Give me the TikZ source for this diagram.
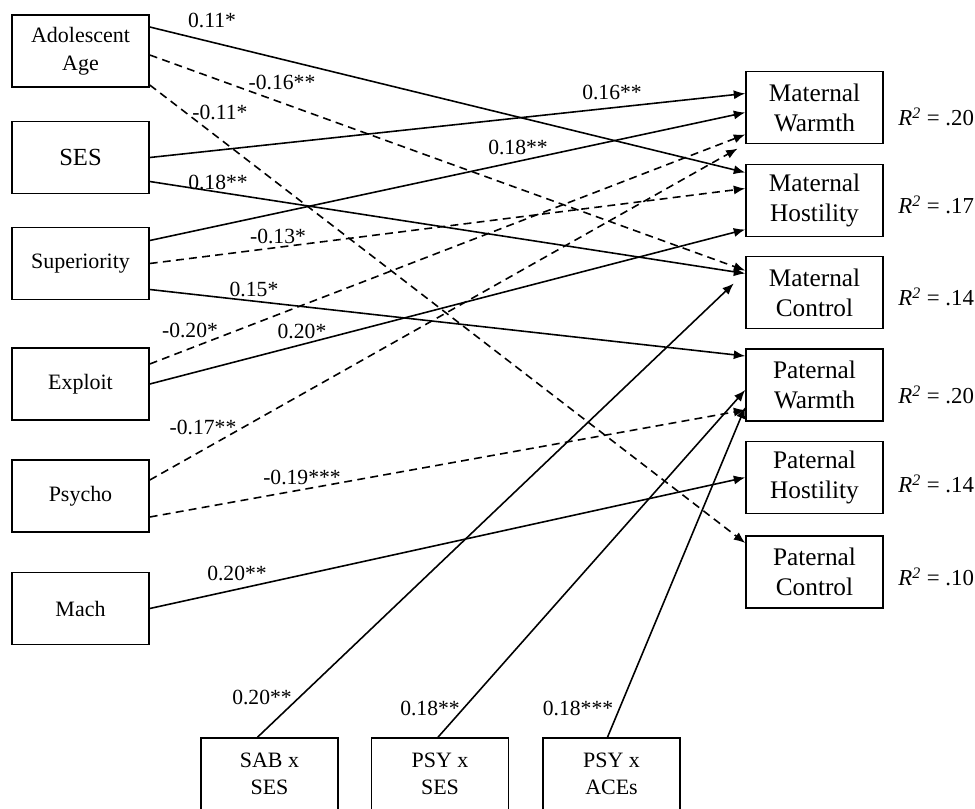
\documentclass[tikz,border=0pt]{standalone}
\usepackage{fontspec}
\setmainfont{Liberation Serif}
\usetikzlibrary{positioning,calc,arrows.meta}

\begin{document}
\begin{tikzpicture}[
    x=0.02cm, y=-0.02cm,
    every node/.style={font=\fontsize{12.5}{16}\selectfont},
    pred/.style={rectangle, draw=black, line width=0.9pt, minimum width=2.74cm, minimum height=1.44cm, align=center, inner sep=2pt},
    outc/.style={pred, font=\fontsize{14.4}{17}\selectfont},
    coef/.style={inner sep=0pt, font=\fontsize{12.3}{14}\selectfont},
    rsq/.style={anchor=west, inner sep=0pt, font=\fontsize{13}{15}\selectfont},
    poseff/.style={-{Latex[length=6.5pt,width=5.2pt]}, line width=0.9pt},
    negeff/.style={poseff, dash pattern=on 4.5pt off 3pt}
]
    \useasboundingbox (0,0) rectangle (975,809);

    % predictors
    \node[pred] (age) at (80.5,51) {Adolescent\\Age};
    \node[pred, font=\fontsize{14}{16}\selectfont] (ses) at (80.5,157.5) {SES};
    \node[pred] (sup) at (80.5,263.5) {Superiority};
    \node[pred] (expl) at (80.5,384) {Exploit};
    \node[pred] (psych) at (80.5,496) {Psycho};
    \node[pred] (mach) at (80.5,608.5) {Mach};

    % outcomes
    \node[outc] (mwarm) at (814.5,107.5) {Maternal\\Warmth};
    \node[outc] (mhost) at (814.5,200.5) {Maternal\\Hostility};
    \node[outc] (mctrl) at (814.5,292.5) {Maternal\\Control};
    \node[outc] (pwarm) at (814.5,385) {Paternal\\Warmth};
    \node[outc] (phost) at (814.5,477.5) {Paternal\\Hostility};
    \node[outc] (pctrl) at (814.5,572) {Paternal\\Control};

    \node[rsq] (r1) at (898,117) {\textit{R}\textsuperscript{\textit{2}} = .20};
    \node[rsq] (r2) at (898,205) {\textit{R}\textsuperscript{\textit{2}} = .17};
    \node[rsq] (r3) at (898,297) {\textit{R}\textsuperscript{\textit{2}} = .14};
    \node[rsq] (r4) at (898,395) {\textit{R}\textsuperscript{\textit{2}} = .20};
    \node[rsq] (r5) at (898,484) {\textit{R}\textsuperscript{\textit{2}} = .14};
    \node[rsq] (r6) at (898,577) {\textit{R}\textsuperscript{\textit{2}} = .10};

    % interactions
    \node[pred, font=\fontsize{12.5}{15.5}\selectfont] (sabses) at (269.5,774) {SAB x\\SES};
    \node[pred, font=\fontsize{12.5}{15.5}\selectfont] (psyses) at (440,774) {PSY x\\SES};
    \node[pred, font=\fontsize{12.5}{15.5}\selectfont] (psyaces) at (611.5,774) {PSY x\\ACEs};

    % paths
    \draw[poseff] ($(age.east)+(0,-24)$) -- ($(mhost.west)+(0,-28)$);
    \draw[negeff] ($(age.east)+(0,4)$) -- ($(mctrl.west)+(0,-22)$);
    \draw[negeff] ($(age.east)+(0,34)$) -- ($(pctrl.west)+(0,-29)$);
    \draw[poseff] (ses.east) -- ($(mwarm.west)+(0,-14)$);
    \draw[poseff] ($(ses.east)+(0,24)$) -- ($(mctrl.west)+(0,-19)$);
    \draw[poseff] ($(sup.east)+(0,-23)$) -- ($(mwarm.west)+(0,5)$);
    \draw[negeff] (sup.east) -- ($(mhost.west)+(0,-12)$);
    \draw[poseff] ($(sup.east)+(0,26)$) -- ($(pwarm.west)+(0,-29)$);
    \draw[negeff] ($(expl.east)+(0,-20)$) -- ($(mwarm.west)+(0,27)$);
    \draw[poseff] (expl.east) -- ($(mhost.west)+(0,29)$);
    \draw[negeff, shorten >=5pt] ($(psych.east)+(0,-16)$) -- (mwarm.south west);
    \draw[negeff] ($(psych.east)+(0,21)$) -- ($(pwarm.west)+(0,25)$);
    \draw[poseff] (mach.east) -- (phost.west);
    \draw[poseff, shorten >=9pt] ($(sabses.north)+(-12,0)$) -- ($(mctrl.west)+(0,-20)$);
    \draw[poseff] ($(psyses.north)+(-2,0)$) -- ($(pwarm.west)+(0,5)$);
    \draw[poseff] ($(psyaces.north)+(-4,0)$) -- ($(pwarm.west)+(0,22)$);

    % coefficients
    \node[coef] (c1) at (212,20) {0.11*};
    \node[coef] (c2) at (282,82) {-0.16**};
    \node[coef] (c3) at (220,112) {-0.11*};
    \node[coef] (c4) at (612,92) {0.16**};
    \node[coef] (c5) at (218,182) {0.18**};
    \node[coef] (c6) at (518,147) {0.18**};
    \node[coef] (c7) at (278,236) {-0.13*};
    \node[coef] (c8) at (254,289) {0.15*};
    \node[coef] (c9) at (190,330) {-0.20*};
    \node[coef] (c10) at (302,331) {0.20*};
    \node[coef] (c11) at (203,427) {-0.17**};
    \node[coef] (c12) at (302,477) {-0.19***};
    \node[coef] (c13) at (237,573) {0.20**};
    \node[coef] (c14) at (262,697) {0.20**};
    \node[coef] (c15) at (430,708) {0.18**};
    \node[coef] (c16) at (578,708) {0.18***};
\end{tikzpicture}
\end{document}
